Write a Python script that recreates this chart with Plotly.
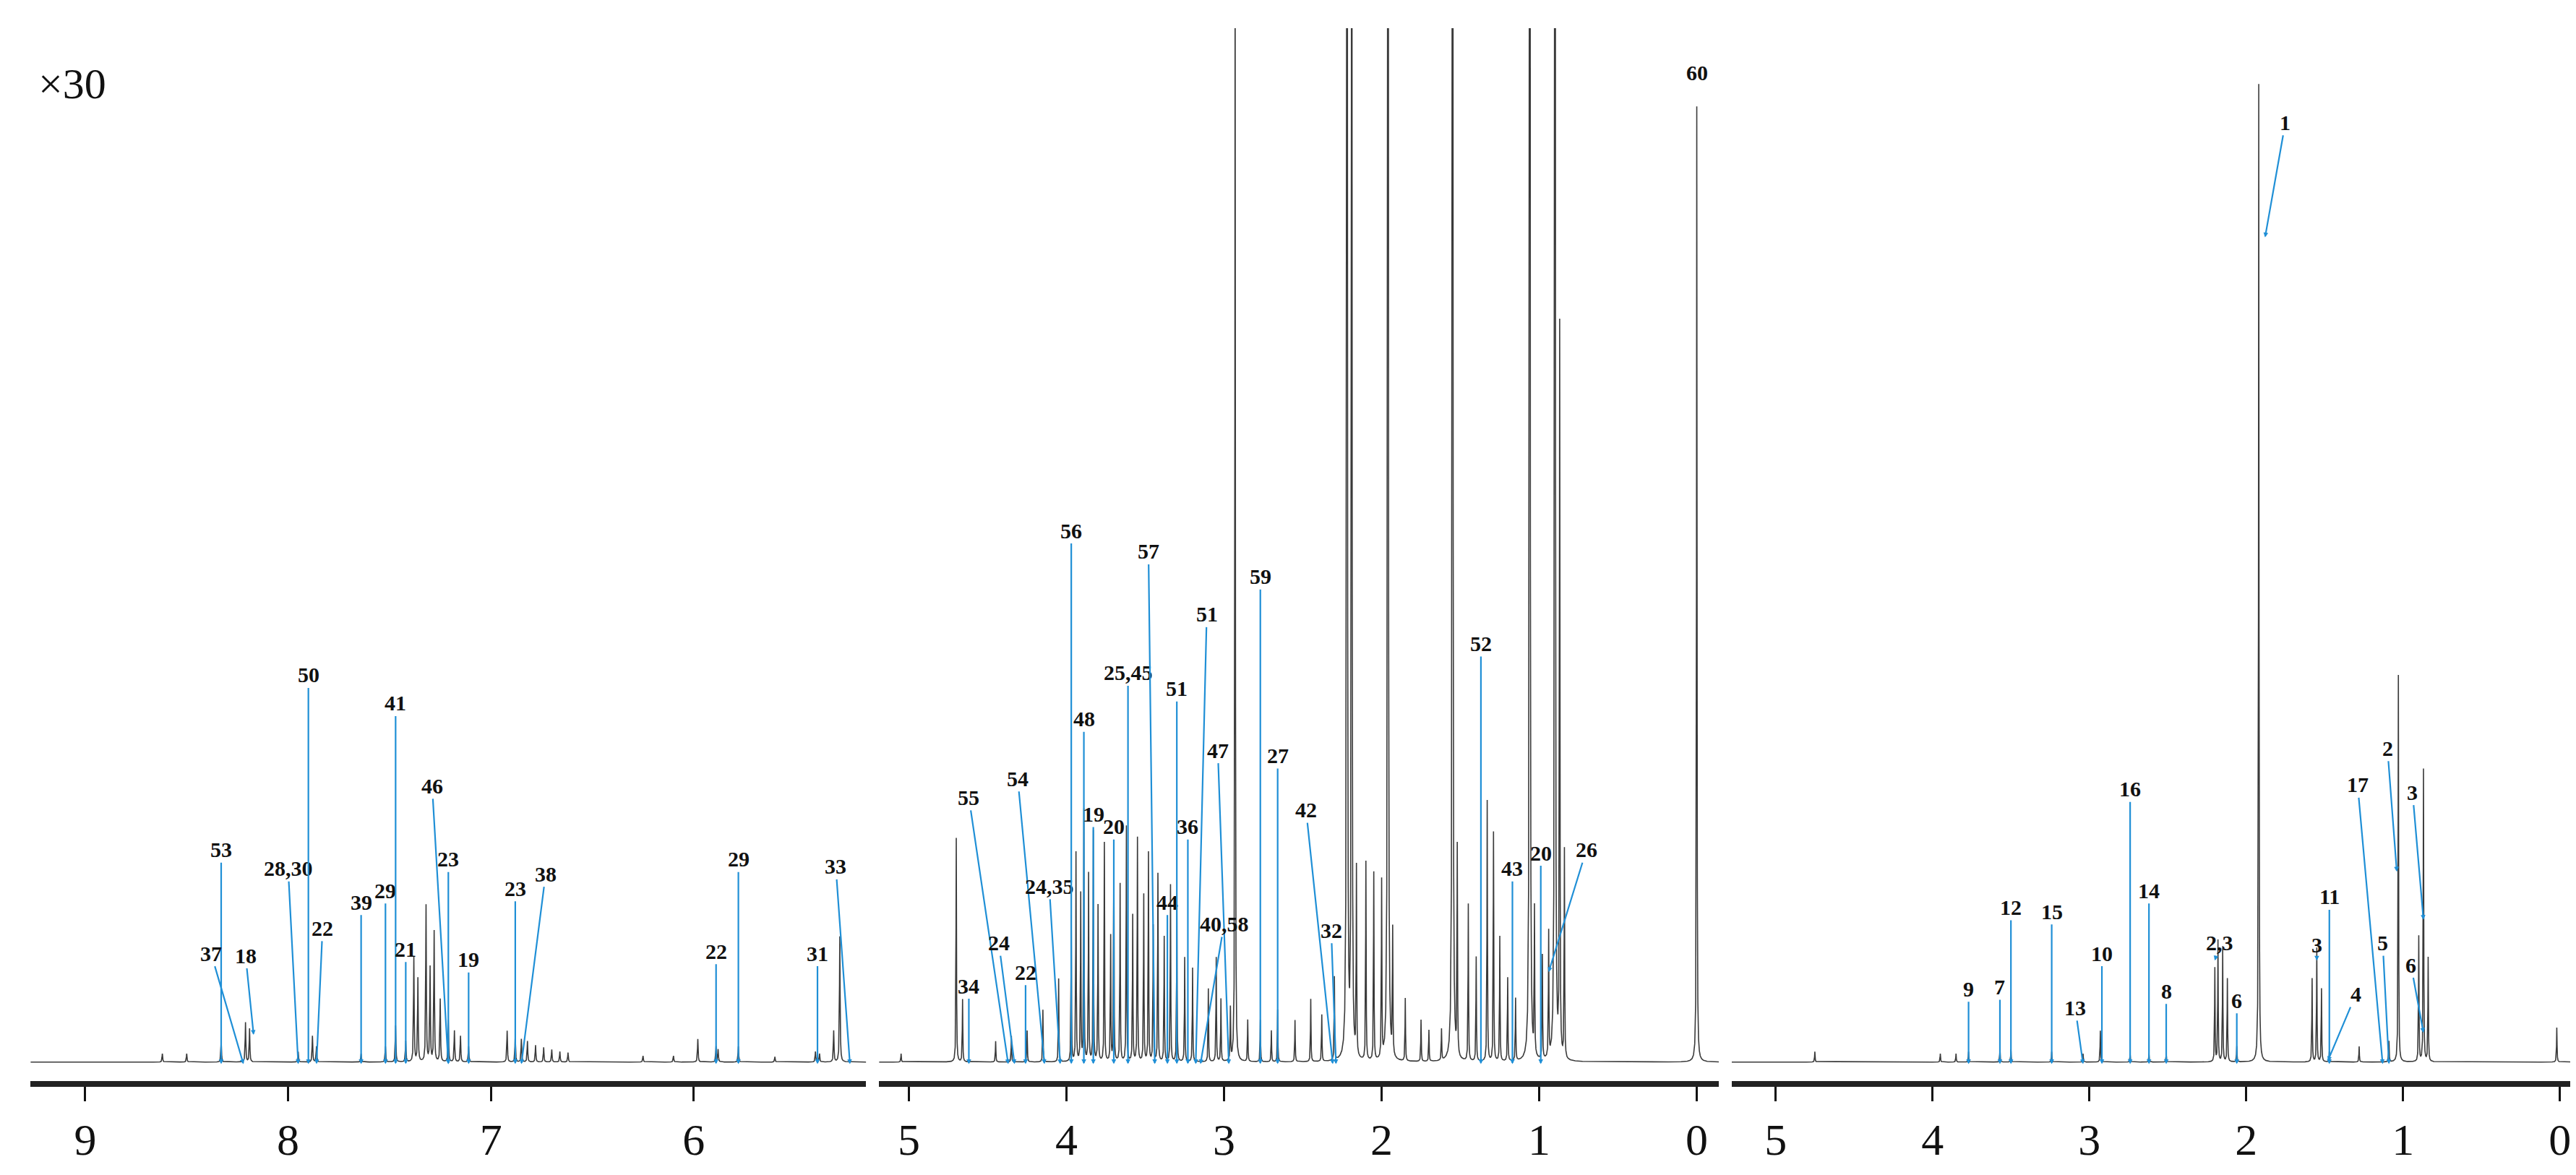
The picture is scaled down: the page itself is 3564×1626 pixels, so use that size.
import numpy as np
import plotly.graph_objects as go

# ---------------- data: peaks (ppm, height) per panel ----------------
p1_ppm = [8.62, 8.50, 8.33, 8.21, 8.19, 7.95, 7.88, 7.86, 7.64, 7.52, 7.47, 7.42, 7.38, 7.36, 7.32, 7.30, 7.28, 7.25, 7.21, 7.18, 7.15, 7.11,
          6.92, 6.88, 6.85, 6.82, 6.78, 6.74, 6.70, 6.66, 6.62, 6.25, 6.1, 5.98, 5.89, 5.88, 5.78, 5.60, 5.40, 5.38, 5.31, 5.28]
p1_h = [0.8, 0.8, 2.0, 3.8, 3.2, 1.0, 2.5, 1.5, 0.8, 1.5, 3.5, 2.0, 10.0, 8.0, 15.0, 9.0, 12.5, 6.0, 4.0, 3.0, 2.5, 1.5,
        3.0, 2.5, 2.2, 2.0, 1.6, 1.4, 1.2, 1.0, 0.9, 0.6, 0.6, 2.2, 1.5, 1.2, 1.5, 0.5, 1.0, 0.8, 3.0, 12.0]
p2_ppm = [5.05, 4.70, 4.66, 4.45, 4.35, 4.25, 4.15, 4.05, 3.97, 3.94, 3.91, 3.89, 3.86, 3.83, 3.80, 3.76, 3.72, 3.70, 3.66, 3.62, 3.58, 3.55,
          3.51, 3.48, 3.45, 3.42, 3.38, 3.34, 3.30, 3.25, 3.20, 3.10, 3.05, 3.02, 2.96, 2.93, 2.85, 2.77, 2.70, 2.66, 2.55, 2.45, 2.38, 2.30,
          2.22, 2.19, 2.16, 2.10, 2.05, 2.00, 1.96, 1.93, 1.85, 1.75, 1.70, 1.62, 1.55, 1.52, 1.45, 1.40, 1.33, 1.29, 1.25, 1.20, 1.15,
          1.06, 1.03, 0.98, 0.94, 0.90, 0.87, 0.84, 0.0]
p2_h = [0.8, 21.5, 6.0, 2.0, 2.5, 3.0, 5.0, 8.0, 14.0, 20.0, 16.0, 24.0, 18.0, 22.0, 15.0, 21.0, 12.0, 20.0, 17.0, 22.5, 14.0, 21.5,
        16.0, 20.0, 13.0, 18.0, 12.0, 17.0, 15.0, 10.0, 9.0, 7.0, 10.0, 6.0, 5.0, 110.0, 4.0, 4.0, 3.0, 5.0, 4.0, 6.0, 4.5, 8.0,
        300.0, 200.0, 18.0, 19.0, 18.0, 17.0, 300.0, 12.0, 6.0, 4.0, 3.0, 3.0, 300.0, 20.0, 15.0, 10.0, 25.0, 22.0, 12.0, 8.0, 6.0,
        300.0, 14.0, 10.0, 12.0, 300.0, 70.0, 20.0, 91.5]
p3_ppm = [4.75, 3.95, 3.85, 3.77, 3.57, 3.50, 3.24, 3.04, 2.93, 2.74, 2.62, 2.51, 2.20, 2.18, 2.15, 2.12, 2.06, 1.92, 1.58, 1.55, 1.52,
          1.47, 1.28, 1.09, 1.03, 0.90, 0.87, 0.84, 0.02]
p3_h = [1.0, 0.8, 0.8, 1.0, 1.2, 1.2, 1.0, 0.8, 3.0, 0.8, 0.8, 0.8, 9.0, 11.6, 11.0, 8.0, 1.5, 93.7, 8.0, 10.9, 7.0,
        1.0, 1.5, 2.0, 37.0, 12.0, 28.0, 10.0, 3.3]

# ---------------- data: labels (text, label ppm, label height, tip ppm, tip height) ----------------
ann1 = [("53", 8.33, 21.5, 8.33, 1), ("37", 8.38, 11.6, 8.22, 1), ("18", 8.21, 11.4, 8.17, 3.8),
        ("28,30", 8.00, 19.7, 7.95, 1), ("50", 7.90, 38.2, 7.90, 1), ("22", 7.83, 14.0, 7.86, 1),
        ("39", 7.64, 16.5, 7.64, 1), ("29", 7.52, 17.6, 7.52, 1), ("41", 7.47, 35.5, 7.47, 1),
        ("21", 7.42, 12.0, 7.42, 1), ("46", 7.29, 27.6, 7.21, 1), ("23", 7.21, 20.6, 7.21, 1),
        ("19", 7.11, 11.0, 7.11, 1), ("23", 6.88, 17.8, 6.88, 1), ("38", 6.73, 19.2, 6.85, 1),
        ("22", 5.89, 11.8, 5.89, 1), ("29", 5.78, 20.6, 5.78, 1), ("31", 5.39, 11.6, 5.39, 1),
        ("33", 5.30, 19.9, 5.23, 1)]
ann2 = [("34", 4.62, 8.5, 4.62, 1), ("55", 4.62, 26.5, 4.37, 1), ("24", 4.43, 12.6, 4.33, 1),
        ("54", 4.31, 28.3, 4.14, 1), ("22", 4.26, 9.8, 4.26, 1), ("24,35", 4.11, 18.0, 4.04, 1),
        ("56", 3.97, 52.0, 3.97, 1), ("48", 3.89, 34.0, 3.89, 1), ("19", 3.83, 24.9, 3.83, 1),
        ("20", 3.70, 23.7, 3.70, 1), ("25,45", 3.61, 38.4, 3.61, 1), ("57", 3.48, 50.0, 3.44, 1),
        ("44", 3.36, 16.5, 3.36, 1), ("51", 3.30, 36.9, 3.30, 1), ("36", 3.23, 23.7, 3.23, 1),
        ("51", 3.11, 44.0, 3.18, 1), ("47", 3.04, 31.0, 2.97, 1), ("40,58", 3.00, 14.4, 3.15, 1),
        ("59", 2.77, 47.6, 2.77, 1), ("27", 2.66, 30.5, 2.66, 1), ("42", 2.48, 25.3, 2.31, 1),
        ("32", 2.32, 13.8, 2.29, 1), ("52", 1.37, 41.2, 1.37, 1), ("43", 1.17, 19.7, 1.17, 1),
        ("20", 0.99, 21.2, 0.99, 1), ("26", 0.70, 21.5, 0.94, 9.8)]
ann3 = [("1", 1.75, 91.0, 1.88, 80.0), ("9", 3.77, 8.2, 3.77, 1), ("7", 3.57, 8.4, 3.57, 1),
        ("12", 3.50, 16.0, 3.50, 1), ("15", 3.24, 15.6, 3.24, 1), ("13", 3.09, 6.4, 3.04, 1),
        ("10", 2.92, 11.6, 2.92, 1), ("16", 2.74, 27.3, 2.74, 1), ("14", 2.62, 17.6, 2.62, 1),
        ("8", 2.51, 8.0, 2.51, 1), ("2,3", 2.17, 12.6, 2.20, 10.9), ("6", 2.06, 7.1, 2.06, 1),
        ("3", 1.55, 12.4, 1.55, 10.9), ("11", 1.47, 17.0, 1.47, 1), ("4", 1.30, 7.7, 1.48, 1.3),
        ("5", 1.13, 12.6, 1.09, 1), ("17", 1.29, 27.7, 1.13, 1), ("2", 1.10, 31.2, 1.04, 19.4),
        ("3", 0.94, 27.0, 0.87, 14.8), ("6", 0.95, 10.5, 0.87, 4.0)]
plain2 = [("60", 0.0, 94.5)]

ranges = [(9.27, 5.15), (5.19, -0.14), (5.28, -0.09)]
domains = [(0.0096, 0.334), (0.339, 0.665), (0.670, 0.997)]
ticks = [[9, 8, 7, 6], [5, 4, 3, 2, 1, 0], [5, 4, 3, 2, 1, 0]]
BASE = 1.2
WIDTH = 0.0018


def spectrum(ppms, hs, lo, hi):
    x = np.linspace(lo, hi, 20000)
    y = np.full_like(x, BASE)
    for c, h in zip(ppms, hs):
        y += h / (1 + ((x - c) / WIDTH) ** 2)
    return x, y


LBL = dict(family="Liberation Serif", size=30, color="#111")
fig = go.Figure()
panels = [(p1_ppm, p1_h, ann1, []), (p2_ppm, p2_h, ann2, plain2), (p3_ppm, p3_h, ann3, [])]
for i, (pp, hh, ann, plain) in enumerate(panels):
    xa = "x" if i == 0 else f"x{i+1}"
    r = ranges[i]
    x, y = spectrum(pp, hh, r[1], r[0])
    fig.add_trace(go.Scatter(x=x, y=y, mode="lines", xaxis=xa, yaxis="y",
                             line=dict(color="#3a3a3a", width=1.6), showlegend=False, hoverinfo="skip"))
    for t, lx, ly, tx, ty in ann:
        fig.add_annotation(text=f"<b>{t}</b>", x=tx, y=ty, ax=lx, ay=ly, xref=xa, yref="y",
                           axref=xa, ayref="y", showarrow=True, arrowhead=2, arrowsize=0.6,
                           arrowwidth=2.2, arrowcolor="#1f8fd6", font=LBL)
    for t, lx, ly in plain:
        fig.add_annotation(text=f"<b>{t}</b>", x=lx, y=ly, xref=xa, yref="y", showarrow=False,
                           yanchor="bottom", font=LBL)
    key = "xaxis" if i == 0 else f"xaxis{i+1}"
    fig.update_layout(**{key: dict(domain=list(domains[i]), range=list(r), anchor="y",
                                   tickvals=ticks[i], ticktext=[str(v) for v in ticks[i]],
                                   ticks="outside", ticklen=20, tickwidth=3, tickcolor="#111",
                                   showline=True, linewidth=8, linecolor="#222", showgrid=False,
                                   zeroline=False,
                                   tickfont=dict(family="Liberation Serif", size=62, color="#111"))})

fig.update_layout(
    width=3564, height=1626, paper_bgcolor="white", plot_bgcolor="white",
    margin=dict(l=0, r=0, t=0, b=0),
    yaxis=dict(domain=[0.085, 0.981], range=[-0.6, 100], visible=False, anchor="x"),
)
fig.add_annotation(text="×30", x=0.012, y=0.955, xref="paper", yref="paper", showarrow=False,
                   xanchor="left", font=dict(family="Liberation Serif", size=60, color="#111"))
fig.write_html("out.html")
